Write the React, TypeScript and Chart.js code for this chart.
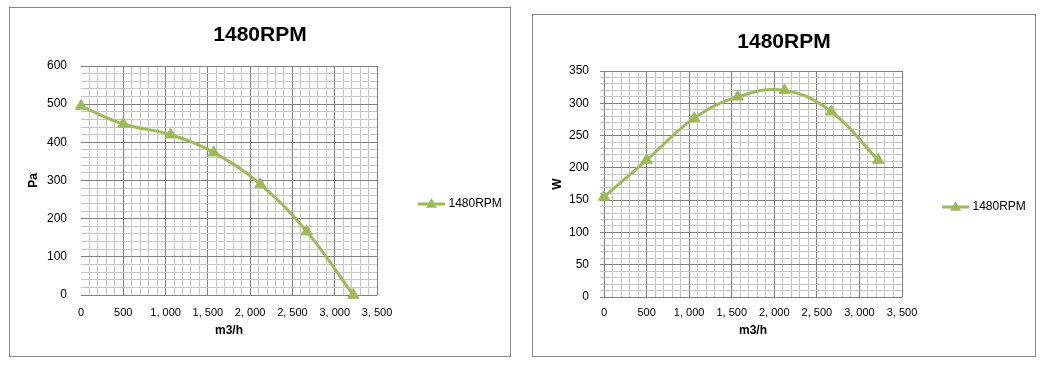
import React, { useEffect, useRef } from "react";
import { Chart, registerables } from "chart.js";

Chart.register(...registerables);

// ---------- data ----------
const chartTitle = "1480RPM";
const seriesName = "1480RPM";
const flowM3h = [0, 500, 1060, 1570, 2120, 2670, 3220];
const pressurePa = [495, 448, 420, 373, 290, 166, 0];
const powerW = [155, 212, 277, 310, 320, 287, 212];

const xTitle = "m3/h";
const xMax = 3500;
const xMajor = 500;
const xMinor = 100;

const paTitle = "Pa";
const paMax = 600;
const paMajor = 100;
const paMinor = 20;

const wTitle = "W";
const wMax = 350;
const wMajor = 50;
const wMinor = 10;

// ---------- style ----------
const GREEN = "#9BBB59";
const MAJOR = "#808080";
const MINOR = "#c6c6c6";
const FONT = "'Liberation Sans', Arial, sans-serif";

function fmtThousands(v: number): string {
  const n = Math.round(v);
  if (n >= 1000) {
    return Math.floor(n / 1000) + ", " + String(n % 1000).padStart(3, "0");
  }
  return String(n);
}

function makeLegendIcon(): HTMLCanvasElement {
  const c = document.createElement("canvas");
  c.width = 27;
  c.height = 14;
  const g = c.getContext("2d")!;
  g.strokeStyle = GREEN;
  g.lineWidth = 3;
  g.beginPath();
  g.moveTo(0, 7);
  g.lineTo(27, 7);
  g.stroke();
  const cx = 13.5, cy = 7.5, r = 6.3;
  g.fillStyle = GREEN;
  g.beginPath();
  g.moveTo(cx, cy - r);
  g.lineTo(cx + 0.866 * r, cy + 0.5 * r);
  g.lineTo(cx - 0.866 * r, cy + 0.5 * r);
  g.closePath();
  g.fill();
  return c;
}

type Cfg = {
  box: { left: number; top: number; width: number; height: number };
  ys: number[];
  yMax: number;
  yMajor: number;
  yMinor: number;
  yTitle: string;
  plotLeft: number;
  plotRight: number;
  plotBottom: number;
  titlePadTop: number;
  titlePadBottom: number;
  yTitlePad: number;
  yTickLen: number;
  yTickPad: number;
  xTickPad: number;
  xTitlePad: number;
  hideX0: boolean;
  legendItemX: number;
  legendCY: number;
};

const LEGEND_PAD = 60;

function FanChart({ cfg }: { cfg: Cfg }) {
  const ref = useRef<HTMLCanvasElement | null>(null);
  const W = cfg.box.width - 2;
  const H = cfg.box.height - 2;

  useEffect(() => {
    if (!ref.current) return;
    const legendPlacer = {
      id: "legendPlacer",
      beforeDraw(chart: any) {
        const lg = chart.legend;
        if (!lg) return;
        lg.left = cfg.legendItemX - LEGEND_PAD;
        lg.right = W;
        lg.width = lg.right - lg.left;
        const h = lg.bottom - lg.top;
        lg.top = cfg.legendCY - h / 2;
        lg.bottom = lg.top + h;
      },
    };
    const chart = new Chart(ref.current, {
      type: "line",
      data: {
        datasets: [
          {
            label: seriesName,
            data: flowM3h.map((x, i) => ({ x, y: cfg.ys[i] })),
            borderColor: GREEN,
            backgroundColor: GREEN,
            borderWidth: 3,
            tension: 0.4,
            pointStyle: "triangle",
            pointRadius: 6.5,
            pointBorderWidth: 1,
            pointBackgroundColor: GREEN,
            pointBorderColor: GREEN,
            clip: false as any,
            fill: false,
          },
        ],
      },
      options: {
        responsive: false,
        maintainAspectRatio: false,
        animation: false,
        events: [],
        layout: { padding: 0 },
        plugins: {
          title: {
            display: true,
            text: chartTitle,
            color: "#000",
            font: { family: FONT, size: 21, weight: "bold" },
            padding: { top: cfg.titlePadTop, bottom: cfg.titlePadBottom },
          },
          legend: {
            display: true,
            position: "right",
            maxWidth: W - cfg.plotRight,
            labels: {
              usePointStyle: true,
              pointStyle: makeLegendIcon() as any,
              pointStyleWidth: 22,
              padding: LEGEND_PAD,
              color: "#000",
              font: { family: FONT, size: 12 },
            },
          },
          tooltip: { enabled: false },
        },
        scales: {
          x: {
            type: "linear",
            min: 0,
            max: xMax,
            border: { display: false },
            grid: {
              drawTicks: false,
              lineWidth: 1,
              color: (ctx: any) => {
                const v = Math.round(ctx.tick.value);
                if (v === 0 && cfg.hideX0) return "rgba(0,0,0,0)";
                return v % xMajor === 0 ? MAJOR : MINOR;
              },
            },
            ticks: {
              stepSize: xMinor,
              autoSkip: false,
              maxRotation: 0,
              minRotation: 0,
              padding: cfg.xTickPad,
              color: "#000",
              font: { family: FONT, size: 11 },
              callback: (v: any) => {
                const n = Math.round(Number(v));
                return n % xMajor === 0 ? fmtThousands(n) : "";
              },
            },
            title: {
              display: true,
              text: xTitle,
              color: "#000",
              font: { family: FONT, size: 12, weight: "bold" },
              padding: { top: 0, bottom: cfg.xTitlePad },
            },
            afterFit: (s: any) => {
              s.height = H - cfg.plotBottom;
            },
          },
          y: {
            type: "linear",
            min: 0,
            max: cfg.yMax,
            border: { display: false },
            grid: {
              drawTicks: cfg.yTickLen > 0,
              tickLength: cfg.yTickLen,
              lineWidth: 1,
              color: (ctx: any) => {
                const v = Math.round(ctx.tick.value);
                return v % cfg.yMajor === 0 ? MAJOR : MINOR;
              },
            },
            ticks: {
              stepSize: cfg.yMinor,
              autoSkip: false,
              padding: cfg.yTickPad,
              color: "#000",
              font: { family: FONT, size: 12 },
              callback: (v: any) => {
                const n = Math.round(Number(v));
                return n % cfg.yMajor === 0 ? String(n) : "";
              },
            },
            title: {
              display: true,
              text: cfg.yTitle,
              color: "#000",
              font: { family: FONT, size: 12, weight: "bold" },
              padding: { top: cfg.yTitlePad, bottom: 0 },
            },
            afterFit: (s: any) => {
              s.width = cfg.plotLeft;
            },
          },
        },
      } as any,
      plugins: [legendPlacer],
    });
    return () => chart.destroy();
  }, []);

  return (
    <div
      style={{
        position: "absolute",
        left: cfg.box.left,
        top: cfg.box.top,
        width: cfg.box.width,
        height: cfg.box.height,
        boxSizing: "border-box",
        border: "1px solid #868686",
        background: "#fff",
      }}
    >
      <canvas ref={ref} width={W} height={H} style={{ display: "block", width: W, height: H }} />
    </div>
  );
}

const leftCfg: Cfg = {
  box: { left: 9, top: 7, width: 502, height: 350 },
  ys: pressurePa,
  yMax: paMax,
  yMajor: paMajor,
  yMinor: paMinor,
  yTitle: paTitle,
  plotLeft: 71,
  plotRight: 367,
  plotBottom: 287,
  titlePadTop: 14.4,
  titlePadBottom: 18.4,
  yTitlePad: 16.8,
  yTickLen: 0,
  yTickPad: 14,
  xTickPad: 11,
  xTitlePad: 17.8,
  hideX0: true,
  legendItemX: 410.5,
  legendCY: 196,
};

const rightCfg: Cfg = {
  box: { left: 532, top: 14, width: 504, height: 343 },
  ys: powerW,
  yMax: wMax,
  yMajor: wMajor,
  yMinor: wMinor,
  yTitle: wTitle,
  plotLeft: 71,
  plotRight: 369,
  plotBottom: 282,
  titlePadTop: 14.4,
  titlePadBottom: 16.4,
  yTitlePad: 17.8,
  yTickLen: 4,
  yTickPad: 11,
  xTickPad: 9,
  xTitlePad: 17.8,
  hideX0: false,
  legendItemX: 411.5,
  legendCY: 192,
};

export default function App() {
  return (
    <div
      style={{
        position: "absolute",
        left: 0,
        top: 0,
        width: 1057,
        height: 367,
        background: "#fff",
        overflow: "hidden",
      }}
    >
      <FanChart cfg={leftCfg} />
      <FanChart cfg={rightCfg} />
    </div>
  );
}
